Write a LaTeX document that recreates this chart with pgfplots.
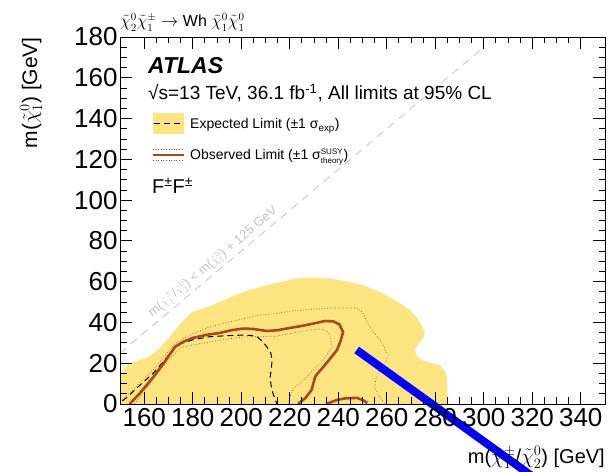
\documentclass[border=0pt]{standalone}
\usepackage{fontspec}
\setmainfont{Liberation Sans}
\usepackage{pgfplots}
\pgfplotsset{compat=1.18}
\definecolor{bandyellow}{RGB}{252,228,128}
\definecolor{obsbrown}{RGB}{170,70,32}
\definecolor{diaggray}{RGB}{195,195,195}
\begin{document}
\begin{tikzpicture}[x=1pt,y=1pt]
\useasboundingbox (0,0) rectangle (610,471);
\begin{axis}[
  at={(120pt,67pt)}, anchor=south west,
  scale only axis, width=485pt, height=367pt,
  xmin=150, xmax=350, ymin=0, ymax=180,
  xtick={160,180,...,340}, ytick={0,20,...,180},
  minor x tick num=3, minor y tick num=3,
  major tick length=12pt, minor tick length=6.5pt,
  tick align=inside,
  axis line style={line width=0.8pt},
  every tick/.style={black, line width=0.8pt},
  /pgf/number format/assume math mode=true,
  ticklabel style={font=\fontsize{26}{26}\selectfont},
  yticklabel style={xshift=1pt},
  xticklabel style={yshift=-1pt},
  clip=false,
  axis on top,
]
% expected +-1 sigma band
\addplot[fill=bandyellow, draw=none] coordinates {
(150,0) (150,15) (154,20) (162,23.2) (166,27) (170.6,33) (175,39.5) (179.6,45)
(187,48) (194,51.5) (201,55) (208,57.5) (215,59.5) (222,61.5) (229,62) (237,61.5)
(244,60) (250,58.4) (256,55.5) (261,52.5) (266,49) (269.6,46) (272,43) (273.7,40)
(275.8,35) (275,32) (273,29.5) (271.8,27) (272,24) (274,21.7) (278,20.3) (282,19)
(284,16) (284.8,13) (285,8) (285,0)} -- cycle;
% diagonal kinematic limit
\addplot[diaggray, line width=0.8pt, dash pattern=on 8pt off 6pt] coordinates {(150,25) (300,175)};
% expected limit
\addplot[black, line width=1pt, dash pattern=on 6pt off 4pt] coordinates {
(151,1.5) (153,3.4) (158,9) (163.6,15) (168,21) (173.5,29) (180,31.5) (187,33)
(194,33.5) (200.7,33.8) (204,33.6) (206.5,33) (208.5,31) (210.6,28) (212.2,25)
(212.7,21.6) (212.4,17) (211.9,13.2) (212.3,9) (213,5.4) (214.7,0)};
% observed +1 sigma theory
\addplot[obsbrown, line width=0.7pt, dotted] coordinates {
(151,2) (157,9) (163,16) (168,23) (173.5,30.4) (180,34.5) (187,37.8) (194,40)
(200.7,41.7) (207,43.5) (214.7,44.5) (222,45.8) (228,46.3) (236.6,47) (243,47.2)
(247.7,47) (250,45) (253,37.8) (258,30) (260.5,24) (259,19) (256.5,15.5) (255.5,12)
(255,8.3) (256.5,4.5) (259.3,0)};
% observed -1 sigma theory
\addplot[obsbrown, line width=0.7pt, dotted] coordinates {
(156,0) (161,8) (166.5,16.7) (174.7,27.5) (180,29) (187,30.4) (194,31.8) (200.7,32.9)
(207,33) (214.7,33.3) (222,35) (228,36.3) (232.5,36.8) (235,36) (236.6,33.8)
(237.4,28) (235.5,24.5) (233.7,21.6) (230,17) (227,13.2) (224,10) (222,8.3)
(220.5,5) (220,3.4) (219.5,0)};
% observed limit
\addplot[obsbrown, line width=2.6pt] coordinates {
(154,0) (158,5) (163.6,13) (168,20) (172.7,28) (176,30.5) (180,32.4) (186,34)
(191,34.8) (196,36.2) (200.7,37) (205,36.8) (210.6,35.8) (215,36.2) (220,37.3)
(225,38.3) (230,39.5) (234.5,40.7) (238,40.5) (240.5,39) (242,35.3) (241,31)
(239.5,26.5) (236.5,22) (233.7,18) (231.5,15) (230.4,13.2) (229.5,9) (229,6.9)
(226.5,3) (223.4,0)};
\addplot[obsbrown, line width=2.6pt] coordinates {
(235,0) (239.5,2) (243,2.8) (247.7,3) (250,2) (252,0.5)};
% blue overlay stroke
\addplot[blue, line width=8pt] coordinates {(247.6,26.5) (330,-44)};
\end{axis}
% title
\node[anchor=base west, inner sep=0pt, font=\fontsize{16}{16}\selectfont] at (120,444)
  {$\tilde{\chi}^{0}_{2}\tilde{\chi}^{\pm}_{1}\rightarrow$ Wh $\tilde{\chi}^{0}_{1}\tilde{\chi}^{0}_{1}$};
% ATLAS
\node[anchor=base west, inner sep=0pt, font=\fontsize{23}{23}\selectfont\bfseries\itshape] at (148,397) {ATLAS};
\node[anchor=base west, inner sep=0pt, font=\fontsize{19}{19}\selectfont] at (148,371)
  {√s=13 TeV, 36.1 fb\textsuperscript{-1}, All limits at 95\% CL};
% legend
\fill[bandyellow] (153,337) rectangle (184,358);
\draw[black, line width=1pt, dash pattern=on 6pt off 4pt] (154,347.5) -- (184,347.5);
\node[anchor=base west, inner sep=0pt, font=\fontsize{14}{14}\selectfont] at (190,342)
  {Expected Limit (±1 σ\textsubscript{exp})};
\draw[obsbrown, line width=2.6pt] (153,316) -- (184,316);
\draw[obsbrown, line width=0.6pt, dotted] (153,322) -- (184,322);
\draw[obsbrown, line width=0.6pt, dotted] (153,310.5) -- (184,310.5);
\node[anchor=base west, inner sep=0pt, font=\fontsize{14}{14}\selectfont] at (190,311)
  {Observed Limit (±1 σ$^{\mbox{\fontsize{8}{8}\selectfont SUSY}}_{\mbox{\fontsize{8}{8}\selectfont theory}}$)};
\node[anchor=base west, inner sep=0pt, font=\fontsize{20}{20}\selectfont] at (152,277)
  {F\textsuperscript{±}F\textsuperscript{±}};
% diagonal label
\node[diaggray, rotate=40, inner sep=0pt, font=\fontsize{13}{13}\selectfont] at (213,209)
  {m($\tilde{\chi}^{\pm}_{1}$/$\tilde{\chi}^{0}_{2}$) < m($\tilde{\chi}^{0}_{1}$) + 125 GeV};
% axis labels
\node[rotate=90, anchor=base east, inner sep=0pt, font=\fontsize{21}{21}\selectfont] at (37,434)
  {m($\tilde{\chi}^{0}_{1}$) [GeV]};
\node[anchor=base east, inner sep=0pt, font=\fontsize{20}{20}\selectfont] at (605,8)
  {m($\tilde{\chi}^{\pm}_{1}$/$\tilde{\chi}^{0}_{2}$) [GeV]};
\end{tikzpicture}
\end{document}
